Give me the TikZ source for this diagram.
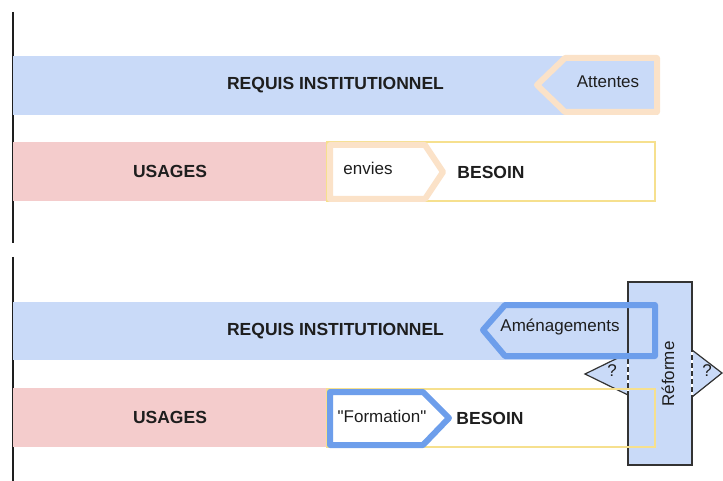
\documentclass[tikz,border=0pt]{standalone}
\usepackage{fontspec}
\setmainfont{Liberation Sans}
\newfontfamily\plainfont{Liberation Sans}
\definecolor{barblue}{HTML}{C9DAF8}
\definecolor{barred}{HTML}{F4CCCC}
\definecolor{peach}{HTML}{FBE2C8}
\definecolor{strokeblue}{HTML}{6D9EEB}
\definecolor{yel}{HTML}{F6E08E}
\definecolor{ink}{HTML}{1E1E1E}
\definecolor{dark}{HTML}{333333}
\tikzset{
  bar/.style={rectangle, inner sep=0pt, outer sep=0pt, text=ink, font=\fontsize{17.5}{20}\selectfont\bfseries},
  needbox/.style={rectangle, draw=yel, line width=2pt, fill=white, inner sep=0pt, outer sep=0pt, text=ink, font=\fontsize{17.5}{20}\selectfont\bfseries},
  lbl/.style={inner sep=0pt, text=ink, font=\fontsize{17}{20}\selectfont},
  peachshape/.style={draw=peach, line width=6pt, line join=round},
  blueshape/.style={draw=strokeblue, line width=6pt, line join=round},
  qtri/.style={draw=dark, line width=1.2pt, fill=barblue, line join=miter},
}
\begin{document}
\begin{tikzpicture}[x=1pt,y=-1pt]
\useasboundingbox (0,0) rectangle (723,481);
% left axis
\draw[ink, line width=1.5pt] (13,12) -- (13,243);
\draw[ink, line width=1.5pt] (13,257) -- (13,481);

% ===== top part =====
\node[bar, fill=barblue, minimum width=645pt, minimum height=59pt] (reqA) at (335.5,85.5) {REQUIS INSTITUTIONNEL};
\draw[peachshape, fill=barblue] (657,58) -- (565,58) -- (537,85) -- (565,112) -- (657,112) -- cycle;
\node[lbl] (att) at (608,82) {Attentes};

\node[bar, fill=barred, minimum width=314pt, minimum height=59pt] (usA) at (170,171.5) {USAGES};
\node[needbox, minimum width=328pt, minimum height=59pt] (besA) at (491,172) {};
\node[bar] (besAt) at (491,172) {BESOIN};
\draw[peachshape, fill=white] (330,145) -- (425,145) -- (443,172) -- (425,199) -- (330,199) -- cycle;
\node[lbl] (env) at (368,168) {envies};

% ===== bottom part =====
\node[bar, fill=barblue, minimum width=645pt, minimum height=58pt] (reqB) at (335.5,331) {REQUIS INSTITUTIONNEL};
\node[bar, fill=barred, minimum width=314pt, minimum height=59pt] (usB) at (170,417.5) {USAGES};

% question triangles
\draw[qtri] (628,353) -- (585,374) -- (628,395);
\draw[qtri] (692,350) -- (722,373) -- (692,397);
\node[lbl] (q1) at (612,371) {?};
\node[lbl] (q2) at (707,371) {?};

% reform box
\node[rectangle, draw=dark, line width=1.5pt, fill=barblue, minimum width=64pt, minimum height=183pt, inner sep=0pt] (ref) at (660,373.5) {};
\draw[white, line width=1.6pt, dash pattern=on 3pt off 5pt] (628,356) -- (628,393);
\draw[white, line width=1.6pt, dash pattern=on 3pt off 5pt] (692,352) -- (692,395);
\node[lbl, rotate=90] (reft) at (668,374) {Réforme};

% besoin bottom
\draw[yel, line width=2pt] (327,389) rectangle (655,447);
\node[bar] (besB) at (490,418) {BESOIN};
\draw[blueshape, fill=white] (330,392) -- (423,392) -- (449,418) -- (423,445) -- (330,445) -- cycle;
\node[lbl] (form) at (382,416) {\plainfont "Formation"};

% amenagements
\draw[blueshape] (655,305) -- (505,305) -- (483,330) -- (505,356) -- (655,356) -- cycle;
\node[lbl] (amen) at (560,327) {Aménagements};
\end{tikzpicture}
\end{document}
